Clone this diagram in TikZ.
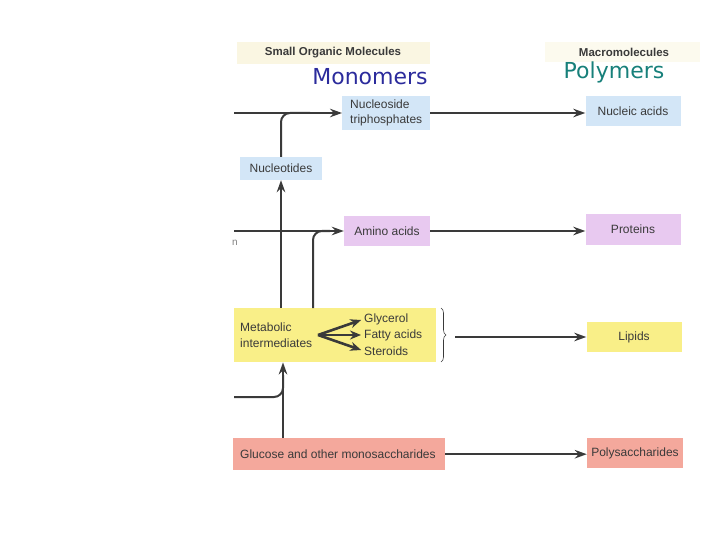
\documentclass[tikz,border=0pt]{standalone}
\usepackage{fontspec}
\setmainfont{Liberation Sans}
\newfontfamily\handfont{DejaVu Sans}
\usetikzlibrary{arrows.meta,decorations.pathreplacing}

\definecolor{inkgray}{HTML}{3A3A3A}
\definecolor{nucblue}{HTML}{D3E6F7}
\definecolor{aminolilac}{HTML}{E8C9F0}
\definecolor{lipidyellow}{HTML}{F9EF88}
\definecolor{sugarsalmon}{HTML}{F4A89C}
\definecolor{headcream}{HTML}{FAF6E2}
\definecolor{monoblue}{HTML}{2B2B9C}
\definecolor{polyteal}{HTML}{17807A}

\begin{document}
\begin{tikzpicture}[x=1pt,y=-1pt,
        flow/.style={-{Stealth[length=12pt,width=8.5pt]},line width=2pt,draw=inkgray},
        branch/.style={-{Stealth[length=11pt,width=9pt]},line width=2.6pt,draw=inkgray,shorten >=3pt},
        feed/.style={line width=2pt,draw=inkgray,rounded corners=9pt},
        molbox/.style={inner sep=0pt,anchor=north west,text=inkgray,font=\fontsize{12}{14}\selectfont},
        lbl/.style={inner sep=0pt,anchor=west,text=inkgray,font=\fontsize{12}{14}\selectfont}]

  \useasboundingbox (0,0) rectangle (720,540);

  % column headers
  \fill[headcream] (237,42) rectangle (430,64);
  \fill[headcream!60] (545,42) rectangle (700,62);
  \node[inner sep=0pt,text=inkgray,font=\bfseries\fontsize{11.5}{13}\selectfont] (smallhead) at (333,53) {Small Organic Molecules};
  \node[inner sep=0pt,text=inkgray,font=\bfseries\fontsize{11.5}{13}\selectfont] (macrohead) at (624,52) {Macromolecules};
  \node[inner sep=0pt,text=monoblue,font=\handfont\fontsize{22}{24}\selectfont] (mono) at (370,77) {Monomers};
  \node[inner sep=0pt,text=polyteal,font=\handfont\fontsize{22}{24}\selectfont] (poly) at (614,72) {Polymers};

  % monomer boxes
  \node[molbox,fill=nucblue,minimum width=88pt,minimum height=34pt] (ntp) at (342,96) {};
  \node[lbl,align=left,font=\fontsize{12}{15}\selectfont] (ntptxt) at (350,113) {Nucleoside\\triphosphates};
  \node[molbox,fill=nucblue,minimum width=82pt,minimum height=23pt,anchor=center] (nuc) at (281,168.5) {Nucleotides};
  \node[molbox,fill=aminolilac,minimum width=86pt,minimum height=30pt,anchor=center] (amino) at (387,231) {Amino acids};
  \node[molbox,fill=lipidyellow,minimum width=202pt,minimum height=54pt] (meta) at (234,308) {};
  \node[lbl,align=left,font=\fontsize{12}{16.5}\selectfont] (metatxt) at (240,335) {Metabolic\\intermediates};
  \node[lbl] (gly) at (364,319) {Glycerol};
  \node[lbl] (fat) at (364,335) {Fatty acids};
  \node[lbl] (ster) at (364,351) {Steroids};
  \node[molbox,fill=sugarsalmon,minimum width=212pt,minimum height=32pt] (gluc) at (233,438) {};
  \node[lbl] (glutxt) at (240,454) {Glucose and other monosaccharides};
  \node[lbl,text=gray,font=\fontsize{10}{12}\selectfont] (cutn) at (232,243) {n};

  % polymer boxes
  \node[molbox,fill=nucblue,minimum width=95pt,minimum height=30pt,anchor=center] (nucac) at (633,111) {Nucleic acids};
  \node[molbox,fill=aminolilac,minimum width=95pt,minimum height=31pt,anchor=center] (prot) at (633,229.5) {Proteins};
  \node[molbox,fill=lipidyellow,minimum width=95pt,minimum height=30pt,anchor=center] (lip) at (634,337) {Lipids};
  \node[molbox,fill=sugarsalmon,minimum width=96pt,minimum height=30pt,anchor=center] (polysac) at (635,453) {Polysaccharides};

  % free ends and joints
  \coordinate (inA) at (234,113);
  \coordinate (inB) at (234,231);
  \coordinate (inC) at (234,397);
  \coordinate (fork) at (318,335);
  \coordinate (bracetip) at (455,337);

  % connectors
  \draw[flow] (inA) -- (ntp.west |- inA);
  \draw[feed] (nuc.north) |- (310,113);
  \draw[flow] (ntp.east |- inA) -- (nucac.west |- inA);
  \draw[flow] (inB) -- (amino.west);
  \draw[flow] (amino.east) -- (prot.west |- amino.east);
  \draw[flow] (meta.north -| nuc.south) -- (nuc.south);
  \draw[feed] (meta.north -| 313,0) |- (330,231);
  \draw[branch] (fork) -- (gly.west);
  \draw[branch] (fork) -- (fat.west);
  \draw[branch] (fork) -- (ster.west);
  \draw[decorate,decoration={brace,amplitude=5pt},draw=inkgray,line width=0.6pt] (441,308) -- (441,362);
  \draw[flow] (bracetip) -- (lip.west);
  \draw[flow] (gluc.north -| 283,0) -- (meta.south -| 283,0);
  \draw[feed] (inC) -| (283,375);
  \draw[flow] (gluc.east) -- (polysac.west |- gluc.east);

\end{tikzpicture}
\end{document}
